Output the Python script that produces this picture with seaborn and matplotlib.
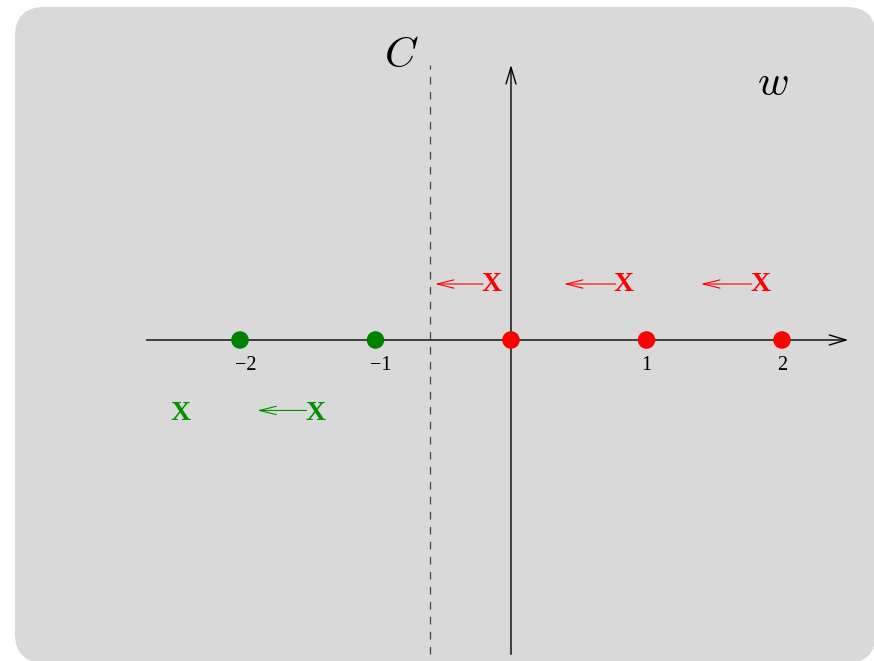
import matplotlib
matplotlib.use("Agg")
import matplotlib.pyplot as plt
import seaborn as sns
import pandas as pd
from matplotlib.patches import FancyBboxPatch

# ---- data ----
dot_x = [-2, -1, 0, 1, 2]
dot_group = ["green", "green", "red", "red", "red"]
tick_values = [-2, -1, 1, 2]
tick_labels = ["\u22122", "\u22121", "1", "2"]
red_x_pos = [-0.144, 0.834, 1.845]
red_x_y = 0.41
red_arrow_tail = [-0.207, 0.773, 1.776]
red_arrow_tip = [-0.561, 0.391, 1.402]
green_x_pos = [-2.437, -1.44]
green_x_y = -0.539
green_arrow_tail = [-1.508]
green_arrow_tip = [-1.872]
green_arrow_y = -0.52
contour_x = -0.595

sns.set_style("white")
plt.rcParams["mathtext.fontset"] = "cm"

fig = plt.figure(figsize=(8.74, 6.61), dpi=100)
ax = fig.add_axes([0, 0, 1, 1])
ax.set_xlim(-3.771, 2.679)
ax.set_ylim(-2.369, 2.509)
ax.axis("off")

# rounded grey panel: x 15..876 px, y 7..663 px
bg = FancyBboxPatch((-3.661, -2.384), 6.355, 2.458 + 2.384,
                    boxstyle="round,pad=0,rounding_size=0.22",
                    facecolor="#d9d9d9", edgecolor="none", zorder=0)
ax.add_patch(bg)

# axes arrows
ax.annotate("", xy=(2.49, 0), xytext=(-2.69, 0),
            arrowprops=dict(arrowstyle="->,head_length=1.0,head_width=0.3",
                            lw=1.0, color="black", mutation_scale=12,
                            shrinkA=0, shrinkB=0), zorder=2)
ax.annotate("", xy=(0, 2.03), xytext=(0, -2.32),
            arrowprops=dict(arrowstyle="->,head_length=1.0,head_width=0.3",
                            lw=1.0, color="black", mutation_scale=12,
                            shrinkA=0, shrinkB=0), zorder=2)

# contour (dashed)
ax.plot([contour_x, contour_x], [-2.32, 2.03], color="#444444", lw=0.9,
        dashes=(6.1, 5.9), zorder=2)

# dots
df = pd.DataFrame({"x": dot_x, "y": [0] * len(dot_x), "g": dot_group})
sns.scatterplot(data=df, x="x", y="y", hue="g",
                palette={"green": "#008000", "red": "#ff0000"},
                s=160, linewidth=0, ax=ax, legend=False, zorder=3)
ax.set_xlim(-3.771, 2.679)
ax.set_ylim(-2.369, 2.509)
ax.axis("off")

# tick labels
for v, lab in zip(tick_values, tick_labels):
    off = 0.04 if v < 0 else 0.0
    ax.text(v + off, -0.185, lab, ha="center", va="center",
            fontsize=14.5, family="Liberation Serif", color="black")

# X marks and arrows
arrow_kw = dict(arrowstyle="->,head_length=1.0,head_width=0.25",
                lw=0.8, mutation_scale=12, shrinkA=0, shrinkB=0)
for xp in red_x_pos:
    ax.text(xp, red_x_y, "X", ha="center", va="center", fontsize=20,
            fontweight="bold", family="Liberation Serif", color="#ff0000")
for t, h in zip(red_arrow_tail, red_arrow_tip):
    ax.annotate("", xy=(h, 0.413), xytext=(t, 0.413),
                arrowprops=dict(color="#ff0000", **arrow_kw))
for xp in green_x_pos:
    ax.text(xp, green_x_y, "X", ha="center", va="center", fontsize=20,
            fontweight="bold", family="Liberation Serif", color="#009000")
for t, h in zip(green_arrow_tail, green_arrow_tip):
    ax.annotate("", xy=(h, green_arrow_y), xytext=(t, green_arrow_y),
                arrowprops=dict(color="#009000", **arrow_kw))

# labels
ax.text(-0.807, 2.103, r"$C$", ha="center", va="center", fontsize=31,
        color="black")
ax.text(1.934, 1.897, r"$w$", ha="center", va="center", fontsize=31,
        color="black")

fig.savefig("out.png", dpi=100, facecolor="white")
